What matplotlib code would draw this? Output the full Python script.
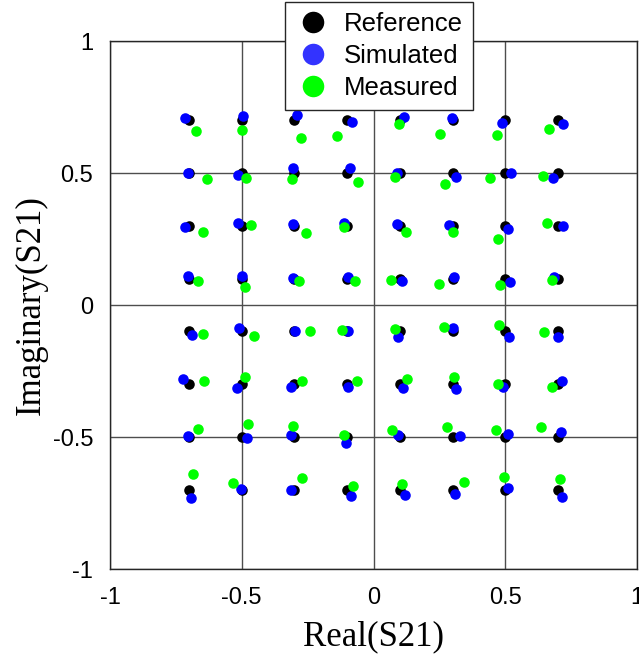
import numpy as np
import matplotlib
matplotlib.use("Agg")
import matplotlib.pyplot as plt
from matplotlib.lines import Line2D

# Ideal 64-QAM constellation levels
levels = [-0.7, -0.5, -0.3, -0.1, 0.1, 0.3, 0.5, 0.7]

# Simulated S21 constellation (rows from top to bottom, left to right)
sim_real = [
    -0.715, -0.494, -0.289, -0.083, 0.117, 0.297, 0.486, 0.720,
    -0.705, -0.513, -0.304, -0.089, 0.090, 0.313, 0.522, 0.682,
    -0.715, -0.513, -0.304, -0.111, 0.088, 0.288, 0.512, 0.720,
    -0.705, -0.498, -0.307, -0.096, 0.107, 0.306, 0.518, 0.686,
    -0.690, -0.510, -0.298, -0.096, 0.094, 0.303, 0.514, 0.701,
    -0.722, -0.517, -0.313, -0.096, 0.113, 0.313, 0.493, 0.717,
    -0.703, -0.481, -0.314, -0.104, 0.094, 0.328, 0.512, 0.710,
    -0.693, -0.504, -0.313, -0.085, 0.120, 0.309, 0.509, 0.717,
]
sim_imag = [
    0.709, 0.717, 0.720, 0.693, 0.711, 0.707, 0.688, 0.684,
    0.499, 0.494, 0.518, 0.518, 0.501, 0.486, 0.499, 0.482,
    0.297, 0.309, 0.307, 0.309, 0.306, 0.303, 0.288, 0.299,
    0.111, 0.111, 0.103, 0.105, 0.092, 0.105, 0.086, 0.107,
    -0.114, -0.088, -0.098, -0.097, -0.120, -0.088, -0.120, -0.120,
    -0.281, -0.316, -0.309, -0.312, -0.316, -0.318, -0.309, -0.288,
    -0.495, -0.503, -0.492, -0.522, -0.492, -0.495, -0.490, -0.482,
    -0.730, -0.698, -0.701, -0.722, -0.720, -0.717, -0.692, -0.728,
]

# Measured S21 constellation
meas_real = [
    -0.675, -0.498, -0.275, -0.140, 0.097, 0.252, 0.470, 0.666,
    -0.633, -0.484, -0.308, -0.060, 0.082, 0.271, 0.442, 0.645,
    -0.646, -0.466, -0.257, -0.111, 0.122, 0.300, 0.474, 0.658,
    -0.667, -0.488, -0.282, -0.070, 0.066, 0.249, 0.480, 0.676,
    -0.646, -0.454, -0.241, -0.121, 0.082, 0.269, 0.476, 0.647,
    -0.642, -0.488, -0.270, -0.064, 0.128, 0.307, 0.474, 0.676,
    -0.667, -0.475, -0.304, -0.111, 0.071, 0.278, 0.465, 0.635,
    -0.686, -0.534, -0.270, -0.077, 0.107, 0.343, 0.496, 0.708,
]
meas_imag = [
    0.659, 0.664, 0.631, 0.640, 0.686, 0.647, 0.644, 0.667,
    0.477, 0.482, 0.477, 0.467, 0.486, 0.457, 0.480, 0.489,
    0.278, 0.303, 0.271, 0.294, 0.275, 0.275, 0.249, 0.309,
    0.092, 0.069, 0.092, 0.092, 0.093, 0.081, 0.076, 0.095,
    -0.110, -0.117, -0.098, -0.095, -0.091, -0.085, -0.076, -0.101,
    -0.287, -0.271, -0.287, -0.287, -0.280, -0.271, -0.299, -0.309,
    -0.470, -0.452, -0.457, -0.492, -0.473, -0.463, -0.473, -0.461,
    -0.641, -0.675, -0.656, -0.686, -0.679, -0.669, -0.653, -0.659,
]

tick_values = [-1, -0.5, 0, 0.5, 1]
tick_labels = ["-1", "-0.5", "0", "0.5", "1"]
series_names = ["Reference", "Simulated", "Measured"]

ref_real, ref_imag = np.meshgrid(levels, levels[::-1])

fig = plt.figure(figsize=(6.39, 6.61), dpi=100)
ax = fig.add_axes([110 / 639, 1 - 569 / 661, 527 / 639, 528 / 661])

ms = 7.6
ax.plot(ref_real.ravel(), ref_imag.ravel(), 'o', color='black', ms=ms, mec='none', zorder=3)
ax.plot(sim_real, sim_imag, 'o', color='#0000ff', ms=ms, mec='none', zorder=4)
ax.plot(meas_real, meas_imag, 'o', color='#00ff00', ms=ms, mec='none', zorder=5)

ax.set_xlim(-1, 1)
ax.set_ylim(-1, 1)
tick_font = {'family': 'Liberation Sans', 'size': 17}
ax.set_xticks(tick_values)
ax.set_xticklabels(tick_labels, fontdict=tick_font)
ax.set_yticks(tick_values)
ax.set_yticklabels(tick_labels, fontdict=tick_font)
ax.tick_params(axis='x', direction='in', length=0, pad=13, labelcolor='black')
ax.tick_params(axis='y', direction='in', length=0, pad=12, labelcolor='black')

ax.grid(True, color='#4d4d4d', linewidth=1.0)
ax.set_axisbelow(True)
for sp in ax.spines.values():
    sp.set_color('#262626')
    sp.set_linewidth(1.0)

ax.set_xlabel("Real(S21)", fontfamily='Liberation Serif', fontsize=25, labelpad=8)
ax.set_ylabel("Imaginary(S21)", fontfamily='Liberation Serif', fontsize=25, labelpad=4)

handles = [
    Line2D([], [], marker='o', ls='none', color='black', ms=15.5, mec='none'),
    Line2D([], [], marker='o', ls='none', color='#3333ff', ms=15.5, mec='none'),
    Line2D([], [], marker='o', ls='none', color='#00ff00', ms=15.5, mec='none'),
]
leg = fig.legend(handles, series_names, loc='upper center',
                 bbox_to_anchor=(379 / 639, 1 - 2 / 661),
                 prop={'family': 'Liberation Sans', 'size': 18.5},
                 frameon=True, fancybox=False, framealpha=1,
                 edgecolor='#262626', borderpad=0.4, labelspacing=0.31,
                 handlelength=1.4, handletextpad=0.47, borderaxespad=0)
leg.get_frame().set_linewidth(1.0)

fig.savefig("out.png", dpi=100)
